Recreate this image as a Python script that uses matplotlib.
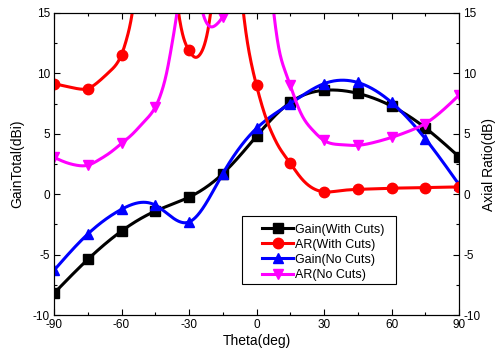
import numpy as np
import matplotlib
matplotlib.use("Agg")
import matplotlib.pyplot as plt
from matplotlib.ticker import MultipleLocator
from matplotlib.lines import Line2D
from matplotlib.patches import Rectangle

# marker positions (every 15 deg)
theta = [-90, -75, -60, -45, -30, -15, 0, 15, 30, 45, 60, 75, 90]
gain_with_cuts = [-8.2, -5.4, -3.05, -1.4, -0.25, 1.7, 4.8, 7.6, 8.6, 8.35, 7.3, 5.5, 3.1]
ar_with_cuts = [9.15, 8.75, 11.55, 28.0, 11.9, 24.0, 9.0, 2.55, 0.2, 0.4, 0.5, 0.55, 0.6]
gain_no_cuts = [-6.3, -3.3, -1.25, -0.9, -2.3, 1.7, 5.45, 7.5, 9.15, 9.25, 7.6, 4.6, 0.8]
ar_no_cuts = [3.05, 2.4, 4.2, 7.2, 21.0, 14.7, 28.0, 9.0, 4.45, 4.05, 4.7, 5.85, 8.2]

# denser curve readings for the axial-ratio traces
theta_ar_wc_curve = [-90, -85, -80, -75, -70, -65, -60, -57.5, -55, -50, -45, -40, -35, -32.5,
                     -30, -27.5, -25, -22.5, -20, -15, -10, -5, -2.5, 0, 2.5, 5, 7.5, 10,
                     12.5, 15, 17.5, 20, 25, 30, 37.5, 45, 52.5, 60, 67.5, 75, 82.5, 90]
ar_wc_curve = [9.15, 8.95, 8.75, 8.75, 9.35, 10.2, 11.55, 13.0, 15.3, 24.0, 28.0, 24.0, 15.5, 13.0,
               11.9, 11.35, 11.6, 12.8, 15.6, 24.0, 22.0, 13.8, 11.0, 9.0, 7.3, 5.9, 4.8, 3.9,
               3.2, 2.55, 1.9, 1.3, 0.5, 0.2, 0.3, 0.4, 0.45, 0.5, 0.52, 0.55, 0.58, 0.6]
theta_ar_nc_curve = [-90, -85, -80, -75, -70, -65, -60, -55, -50, -45, -42.5, -40, -37.5, -35,
                     -30, -25, -22.5, -20, -17.5, -15, -12.5, -10, -5, 0, 5, 7.5, 10, 12.5,
                     15, 17.5, 20, 25, 30, 37.5, 45, 52.5, 60, 67.5, 75, 82.5, 90]
ar_nc_curve = [3.05, 2.65, 2.4, 2.4, 2.85, 3.45, 4.2, 5.0, 6.0, 7.2, 8.3, 10.0, 12.5, 15.5,
               21.0, 16.0, 14.3, 13.85, 14.1, 14.7, 16.0, 19.0, 27.0, 29.0, 20.0, 15.3, 12.0, 10.3,
               9.0, 7.7, 6.6, 5.3, 4.45, 4.1, 4.05, 4.3, 4.7, 5.2, 5.85, 6.9, 8.2]


def natural_spline(x, y, xs):
    x = np.asarray(x, float)
    y = np.asarray(y, float)
    n = len(x)
    h = np.diff(x)
    A = np.zeros((n, n))
    b = np.zeros(n)
    A[0, 0] = 1
    A[-1, -1] = 1
    for i in range(1, n - 1):
        A[i, i - 1] = h[i - 1]
        A[i, i] = 2 * (h[i - 1] + h[i])
        A[i, i + 1] = h[i]
        b[i] = 6 * ((y[i + 1] - y[i]) / h[i] - (y[i] - y[i - 1]) / h[i - 1])
    M = np.linalg.solve(A, b)
    idx = np.clip(np.searchsorted(x, xs) - 1, 0, n - 2)
    x0 = x[idx]; x1 = x[idx + 1]; hh = x1 - x0
    t0 = x1 - xs; t1 = xs - x0
    return (M[idx] * t0 ** 3 / (6 * hh) + M[idx + 1] * t1 ** 3 / (6 * hh)
            + (y[idx] / hh - M[idx] * hh / 6) * t0
            + (y[idx + 1] / hh - M[idx + 1] * hh / 6) * t1)


plt.rcParams['font.family'] = ['Liberation Sans', 'DejaVu Sans']
plt.rcParams['axes.unicode_minus'] = False
fig = plt.figure(figsize=(5, 3.58), dpi=100)
ax = fig.add_axes([0.108, 0.12, 0.81, 0.8437])
ax2 = ax.twinx()

xs = np.linspace(-90, 90, 1441)
lw = 2.2
ms = 7.5

series = [
    (ax, theta, gain_with_cuts, gain_with_cuts, 'black', 's', 'Gain(With Cuts)'),
    (ax2, theta_ar_wc_curve, ar_wc_curve, ar_with_cuts, 'red', 'o', 'AR(With Cuts)'),
    (ax, theta, gain_no_cuts, gain_no_cuts, 'blue', '^', 'Gain(No Cuts)'),
    (ax2, theta_ar_nc_curve, ar_nc_curve, ar_no_cuts, 'magenta', 'v', 'AR(No Cuts)'),
]
handles = []
for a, cx, cy, my, c, m, lab in series:
    a.plot(xs, natural_spline(cx, cy, xs), color=c, lw=lw)
    a.plot(theta, my, linestyle='none', marker=m, color=c, ms=ms)
    handles.append(Line2D([], [], color=c, lw=lw, marker=m, ms=ms, label=lab))

for a in (ax, ax2):
    a.set_xlim(-90, 90)
    a.set_ylim(-10, 15)
    a.yaxis.set_major_locator(MultipleLocator(5))
    a.yaxis.set_minor_locator(MultipleLocator(2.5))
    a.xaxis.set_major_locator(MultipleLocator(30))
    a.xaxis.set_minor_locator(MultipleLocator(15))
    a.tick_params(which='both', direction='in', labelsize=8.5, width=0.8, pad=3)
    a.tick_params(which='major', length=4)
    a.tick_params(which='minor', length=2)
ax.tick_params(which='both', top=True)
for sp in list(ax.spines.values()) + list(ax2.spines.values()):
    sp.set_linewidth(0.8)

ax.set_xlabel('Theta(deg)', fontsize=10, labelpad=2)
ax.set_ylabel('GainTotal(dBi)', fontsize=10, labelpad=6)
ax2.set_ylabel('Axial Ratio(dB)', fontsize=10, labelpad=1, rotation=90)

# legend frame
ax2.add_patch(Rectangle((0.464, 0.1026), 0.38, 0.2254, transform=ax2.transAxes,
                        facecolor='white', edgecolor='black', lw=0.8, zorder=5))
leg = ax2.legend(handles=handles, loc='upper left', bbox_to_anchor=(0.5136, 0.303), fontsize=9,
                 frameon=False, handlelength=2.5, handletextpad=0.15, labelspacing=0.25,
                 borderpad=0, borderaxespad=0)
leg.set_zorder(6)

fig.savefig('out.png', dpi=100)
